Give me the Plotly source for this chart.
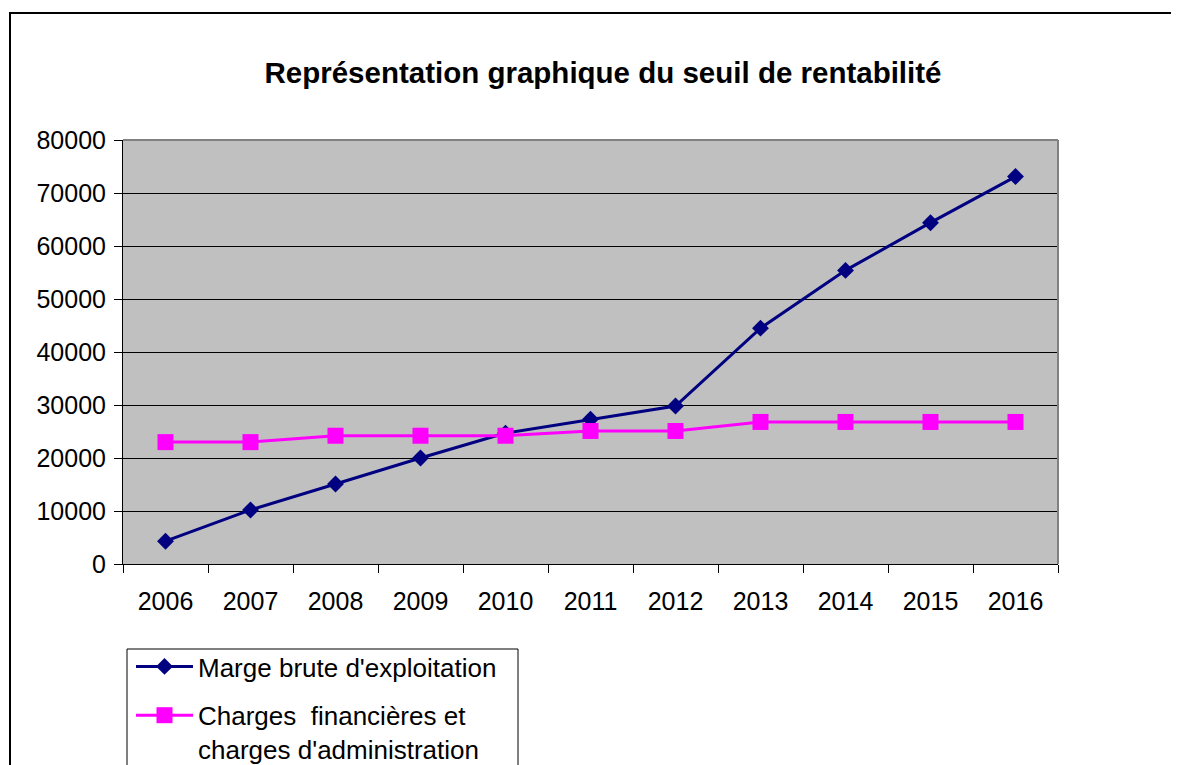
import plotly.graph_objects as go

years = ["2006", "2007", "2008", "2009", "2010", "2011", "2012", "2013", "2014", "2015", "2016"]
marge_brute = [4300, 10200, 15100, 20000, 24700, 27300, 29800, 44500, 55400, 64400, 73100]
charges = [23000, 23000, 24200, 24200, 24200, 25100, 25100, 26800, 26800, 26800, 26800]
y_ticks = [0, 10000, 20000, 30000, 40000, 50000, 60000, 70000, 80000]

FONT = "Liberation Sans, Arial, sans-serif"

fig = go.Figure()
fig.add_trace(go.Scatter(
    x=years, y=marge_brute, mode="lines+markers",
    name="Marge brute d'exploitation", legendgroup="a",
    line=dict(color="#000080", width=3),
    marker=dict(symbol="diamond", size=13, color="#000080"),
))
fig.add_trace(go.Scatter(
    x=years, y=charges, mode="lines+markers",
    name="Charges  financières et<br>charges d'administration", legendgroup="b",
    line=dict(color="#FF00FF", width=3),
    marker=dict(symbol="square", size=16, color="#FF00FF"),
))

# page body has an 8px margin, so figure coordinates = screen - 8
OFF = 8
W, H = 1179, 765
L, R, T, B = 123 - OFF, W - (1058 - OFF), 140 - OFF, H - (564 - OFF)
pw, ph = W - L - R, H - T - B

def px(x):
    return (x - OFF - L) / pw

def py(y):
    return (H - B - (y - OFF)) / ph

fig.update_layout(
    width=W, height=H,
    margin=dict(l=L, r=R, t=T, b=B, pad=0, autoexpand=False),
    paper_bgcolor="white",
    plot_bgcolor="#C0C0C0",
    font=dict(family=FONT, size=25, color="black"),
    title=dict(
        text="<b>Représentation graphique du seuil de rentabilité</b>",
        x=px(603), xref="paper", xanchor="center",
        y=1 - (73 - OFF) / H, yref="container", yanchor="middle",
        font=dict(family=FONT, size=29.5, color="black"),
    ),
    showlegend=True,
    legend=dict(
        x=px(131), y=py(643), xanchor="left", yanchor="top",
        bgcolor="rgba(0,0,0,0)", borderwidth=0,
        font=dict(family=FONT, size=26, color="black"),
        itemwidth=57, tracegroupgap=12, traceorder="grouped", valign="top",
    ),
    xaxis=dict(
        type="category", range=[-0.5, 10.5],
        tickson="boundaries", ticks="outside", ticklen=8, tickwidth=1, tickcolor="black",
        showline=True, linecolor="black", linewidth=1,
        showgrid=False, zeroline=False,
        ticklabelstandoff=15,
    ),
    yaxis=dict(
        range=[0, 80000], tickvals=y_ticks, ticktext=[str(v) for v in y_ticks],
        ticks="outside", ticklen=8, tickwidth=1, tickcolor="black",
        showline=True, linecolor="black", linewidth=1,
        showgrid=True, gridcolor="black", gridwidth=1, zeroline=False,
        ticklabelstandoff=3,
    ),
    shapes=[
        dict(type="line", xref="paper", yref="paper", x0=0, x1=1, y0=1, y1=1,
             line=dict(color="#808080", width=2), layer="above"),
        dict(type="line", xref="paper", yref="paper", x0=1, x1=1, y0=0, y1=1,
             line=dict(color="#808080", width=2), layer="above"),
        dict(type="rect", xref="paper", yref="paper",
             x0=px(10), x1=px(1250), y0=py(850), y1=py(13),
             line=dict(color="black", width=2), fillcolor="rgba(0,0,0,0)", layer="below"),
        dict(type="rect", xref="paper", yref="paper",
             x0=px(127), x1=px(518), y0=py(850), y1=py(649),
             line=dict(color="black", width=1), fillcolor="white", layer="below"),
    ],
)

fig.write_html("out.html")
